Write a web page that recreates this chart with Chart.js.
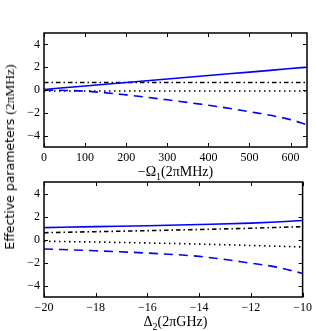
<!DOCTYPE html>
<html>
<head>
<meta charset="utf-8">
<script src="https://cdn.jsdelivr.net/npm/chart.js@4.4.0/dist/chart.umd.min.js"></script>
<style>
  body { margin: 0; background: #fff; }
  #wrap { position: relative; width: 316px; height: 331px; overflow: hidden; }
  canvas { position: absolute; left: 0; }
  .xlab { position: absolute; left: 44px; width: 263px; text-align: center; line-height: 16px;
          font-family: "Liberation Serif", serif; font-size: 14px; color: #000; }
  .ylab { position: absolute; left: 10px; top: 157px; white-space: nowrap;
          transform: translate(-50%, -50%) rotate(-90deg); font-size: 12.5px; color: #000; }
  .ylab .s { font-family: "DejaVu Sans", sans-serif; }
  .ylab .m { font-family: "Liberation Serif", serif; font-size: 13.5px; }
  sub { font-size: 10px; }
</style>
</head>
<body>
<div id="wrap">
  <canvas id="top" width="316" height="170" style="top:0"></canvas>
  <canvas id="bot" width="316" height="166" style="top:165px"></canvas>
  <div class="xlab" style="top:164px">−Ω<sub>1</sub>(2πMHz)</div>
  <div class="xlab" style="top:314px">Δ<sub>2</sub>(2πGHz)</div>
  <div class="ylab"><span class="s">Effective parameters </span><span class="m">(2πMHz)</span></div>
</div>
<script>
// top panel: -Omega1 (2piMHz)
const omega = [0, 100, 200, 300, 400, 500, 600, 640];
const solidTop = [0.05, 0.35, 0.66, 0.96, 1.27, 1.57, 1.88, 2.0];
const dashTop = [0, -0.1, -0.43, -0.86, -1.34, -1.9, -2.6, -3.05];
const dashDotTop = [0.66, 0.66, 0.66, 0.66, 0.66, 0.66, 0.66, 0.66];
const dotTop = [-0.09, -0.09, -0.09, -0.09, -0.09, -0.09, -0.09, -0.09];
const omegaTicks = [0, 100, 200, 300, 400, 500, 600];

// bottom panel: Delta2 (2piGHz)
const delta = [-20, -18, -16, -14, -12, -11, -10];
const solidBot = [1.03, 1.12, 1.2, 1.3, 1.42, 1.52, 1.65];
const dashBot = [-0.82, -0.98, -1.18, -1.47, -2.06, -2.4, -2.95];
const dashDotBot = [0.59, 0.68, 0.77, 0.87, 0.98, 1.05, 1.12];
const dotBot = [-0.15, -0.22, -0.3, -0.4, -0.52, -0.58, -0.65];
const deltaTicks = [-20, -18, -16, -14, -12, -10];

const yTicks = [-4, -2, 0, 2, 4];

function pts(xs, ys) {
  return xs.map((x, i) => ({ x: x, y: ys[i] }));
}

function fmt(v) {
  return v < 0 ? "\u2212" + Math.abs(v) : String(v);
}

// frame and inward ticks on all four sides, like matplotlib classic
const frameTicks = {
  id: "frameTicks",
  afterDraw(chart) {
    const ctx = chart.ctx;
    const a = chart.chartArea;
    const xs = chart.scales.x, ys = chart.scales.y;
    ctx.save();
    ctx.strokeStyle = "#000";
    ctx.lineWidth = 1;
    ctx.beginPath();
    xs.ticks.forEach((t) => {
      const px = Math.round(xs.getPixelForValue(t.value)) + 0.5;
      ctx.moveTo(px, a.bottom); ctx.lineTo(px, a.bottom - 4);
      ctx.moveTo(px, a.top); ctx.lineTo(px, a.top + 4);
    });
    ys.ticks.forEach((t) => {
      const py = Math.round(ys.getPixelForValue(t.value)) + 0.5;
      ctx.moveTo(a.left, py); ctx.lineTo(a.left + 4, py);
      ctx.moveTo(a.right, py); ctx.lineTo(a.right - 4, py);
    });
    ctx.stroke();
    ctx.lineWidth = 1.5;
    ctx.strokeRect(a.left, a.top, a.right - a.left, a.bottom - a.top);
    ctx.restore();
  },
};

function make_chart(id, xs, series, xMin, xMax, xTicks, pad) {
  const styles = [
    { color: "#0000ff", dash: [] },
    { color: "#0000ff", dash: [9, 6] },
    { color: "#000", dash: [4.5, 3, 1.5, 3] },
    { color: "#000", dash: [1.5, 3.5] },
  ];
  return new Chart(document.getElementById(id), {
    type: "line",
    data: {
      datasets: series.map((s, i) => ({
        data: pts(xs, s),
        borderColor: styles[i].color,
        borderDash: styles[i].dash,
        borderWidth: 1.6,
        pointRadius: 0,
        cubicInterpolationMode: "monotone",
        fill: false,
      })),
    },
    options: {
      responsive: false,
      animation: false,
      layout: { padding: pad },
      plugins: { legend: { display: false }, tooltip: { enabled: false } },
      scales: {
        x: {
          type: "linear",
          min: xMin,
          max: xMax,
          afterBuildTicks: (s) => { s.ticks = xTicks.map((v) => ({ value: v })); },
          afterFit: (s) => { s.height = 18; },
          grid: { display: false, drawTicks: false },
          border: { display: false },
          ticks: {
            padding: 4,
            maxRotation: 0,
            autoSkip: false,
            color: "#000",
            font: { family: "Liberation Serif", size: 12 },
            callback: (v) => fmt(v),
          },
        },
        y: {
          min: -5,
          max: 5,
          afterBuildTicks: (s) => { s.ticks = yTicks.map((v) => ({ value: v })); },
          afterFit: (s) => { s.width = 30; },
          grid: { display: false, drawTicks: false },
          border: { display: false },
          ticks: {
            padding: 4,
            color: "#000",
            font: { family: "Liberation Serif", size: 12 },
            callback: (v) => fmt(v),
          },
        },
      },
    },
    plugins: [frameTicks],
  });
}

make_chart("top", omega, [solidTop, dashTop, dashDotTop, dotTop], 0, 640, omegaTicks,
  { left: 14, right: 9, top: 33, bottom: 5 });
make_chart("bot", delta, [solidBot, dashBot, dashDotBot, dotBot], -20, -10, deltaTicks,
  { left: 14, right: 9, top: 17, bottom: 16 });
</script>
</body>
</html>
